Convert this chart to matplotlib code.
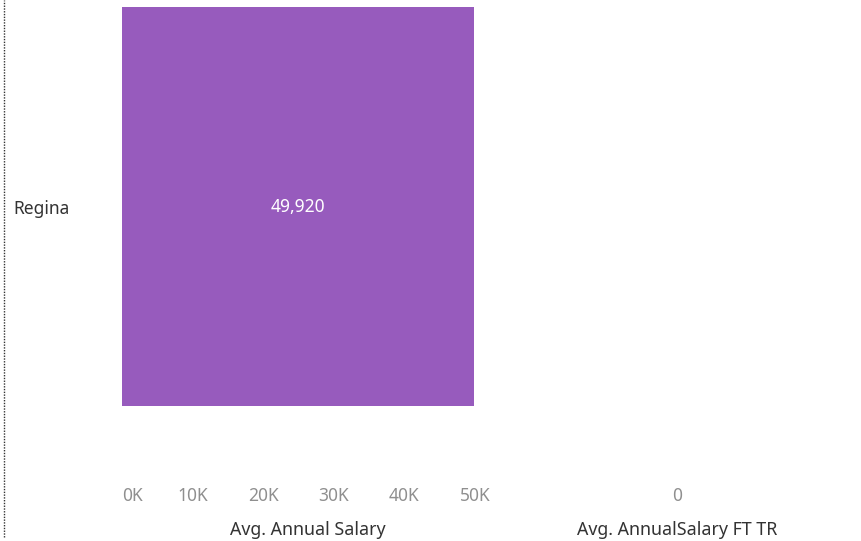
import matplotlib
matplotlib.use("Agg")
import matplotlib.pyplot as plt
from matplotlib.lines import Line2D

plt.rcParams['font.family'] = ['Noto Sans', 'DejaVu Sans']

cities = ["Regina"]
avg_salary = [49920]
avg_salary_ft_tr = [0]
salary_ticks = [0, 10000, 20000, 30000, 40000, 50000]
salary_tick_labels = ["0K", "10K", "20K", "30K", "40K", "50K"]

W, H = 861, 541
fig = plt.figure(figsize=(W / 100, H / 100), dpi=100)

bar_color = "#975bbd"
tick_color = "#8f8f8f"
title_color = "#333333"

# panes (pixel coords -> figure fractions)
pane_top, pane_bottom = 0, 413
ax1 = fig.add_axes([122 / W, 1 - pane_bottom / H, (494 - 122) / W, (pane_bottom - pane_top) / H])
ax2 = fig.add_axes([494 / W, 1 - pane_bottom / H, (861 - 494) / W, (pane_bottom - pane_top) / H])

ypos = range(len(cities))
ax1.barh(ypos, avg_salary, height=0.966, color=bar_color)
for y, v in zip(ypos, avg_salary):
    ax1.text(v / 2, y, f"{v:,}", ha="center", va="center", color="white", fontsize=12.5)
ax1.set_xlim(0, 52700)
ax1.set_ylim(-0.5, 0.5)
ax1.set_xticks(salary_ticks)
ax1.set_xticklabels(salary_tick_labels)
ax1.get_xticklabels()[0].set_ha("left")
ax1.set_yticks(list(ypos))
ax1.set_yticklabels(cities)
for lab in ax1.get_yticklabels():
    lab.set_ha("left")
ax1.tick_params(axis="y", length=0, pad=78.5, labelsize=12.5, labelcolor=title_color)
ax1.tick_params(axis="x", length=0, pad=53.5, labelsize=12.5, labelcolor=tick_color)

ax2.barh(ypos, avg_salary_ft_tr, height=0.966, color=bar_color)
ax2.set_xlim(-1, 1)
ax2.set_ylim(-0.5, 0.5)
ax2.set_xticks([0])
ax2.set_xticklabels(["0"])
ax2.set_yticks([])
ax2.tick_params(axis="x", length=0, pad=53.5, labelsize=12.5, labelcolor=tick_color)

for ax in (ax1, ax2):
    for s in ax.spines.values():
        s.set_visible(False)

# axis titles, baseline placed near the bottom edge
fig.text(308 / W, 6 / H, "Avg. Annual Salary", ha="center", va="baseline",
         fontsize=12.8, color=title_color)
fig.text(677.5 / W, 6 / H, "Avg. AnnualSalary FT TR", ha="center", va="baseline",
         fontsize=12.8, color=title_color)

fig.add_artist(Line2D([3.5 / W, 3.5 / W], [1 - 537 / H, 1], transform=fig.transFigure,
                      color="#333333", linestyle=(0, (1, 1)), linewidth=1.0))

fig.savefig("out.png", dpi=100)
